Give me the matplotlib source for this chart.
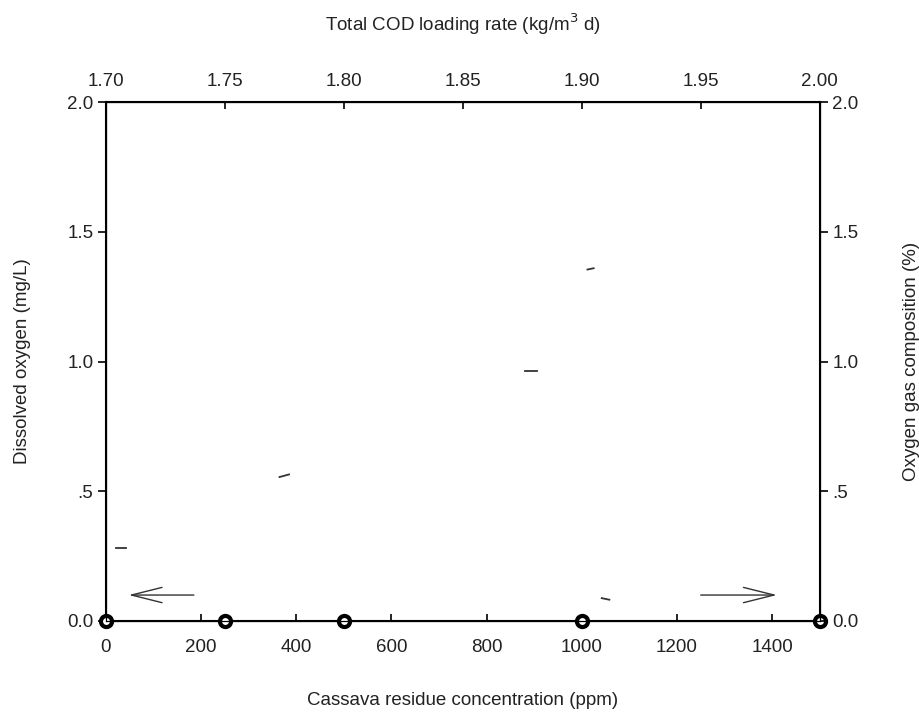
import matplotlib
matplotlib.use("Agg")
import matplotlib.pyplot as plt

plt.rcParams['font.family'] = ['Liberation Sans', 'DejaVu Sans']

# oxygen measurements (all zero)
conc = [0, 250, 500, 1000, 1500]
oxygen = [0.0, 0.0, 0.0, 0.0, 0.0]

# faint short strokes left in the scanned figure (x start, x end, y)
stroke_x0 = [22, 365, 880, 1012, 1042]
stroke_x1 = [42, 385, 905, 1025, 1058]
stroke_y0 = [0.28, 0.555, 0.965, 1.355, 0.088]
stroke_y1 = [0.28, 0.565, 0.965, 1.36, 0.082]

# direction arrows (tail x, head x, y)
arrow_tail = [185, 1250]
arrow_head = [48, 1410]
arrow_y = [0.10, 0.10]

y_ticks = [0.0, 0.5, 1.0, 1.5, 2.0]
y_labels = ['0.0', '.5', '1.0', '1.5', '2.0']
x_ticks = [0, 200, 400, 600, 800, 1000, 1200, 1400]
top_ticks = [1.70, 1.75, 1.80, 1.85, 1.90, 1.95, 2.00]

txt = '#222222'
fs = 13.5

fig = plt.figure(figsize=(9.2, 7.15), dpi=100)
ax = fig.add_axes([0.115, 0.1315, 0.776, 0.7255])

for a, b, c, d in zip(stroke_x0, stroke_x1, stroke_y0, stroke_y1):
    ax.plot([a, b], [c, d], color='#333333', lw=1.3)

for t, h, y in zip(arrow_tail, arrow_head, arrow_y):
    ax.annotate('', xy=(h, y), xytext=(t, y),
                arrowprops=dict(arrowstyle='->,head_length=2.2,head_width=0.55',
                                color='#333333', lw=1.0, shrinkA=0, shrinkB=0))

ax.plot(conc, oxygen, linestyle='none', marker='o', ms=8, mfc='white',
        mec='black', mew=3.0, clip_on=False, zorder=5)

ax.set_xlim(0, 1500)
ax.set_ylim(0, 2.0)
ax.set_xticks(x_ticks)
ax.set_yticks(y_ticks)
ax.set_yticklabels(y_labels)
ax.tick_params(axis='x', direction='in', length=5, width=1.2, labelsize=fs,
               colors='black', labelcolor=txt, pad=13)
ax.tick_params(axis='y', direction='out', length=6, width=1.2, labelsize=fs,
               colors='black', labelcolor=txt, pad=3)
for s in ax.spines.values():
    s.set_linewidth(1.5)
ax.set_xlabel('Cassava residue concentration (ppm)', fontsize=fs, color=txt, labelpad=26)
ax.set_ylabel('Dissolved oxygen (mg/L)', fontsize=fs, color=txt, labelpad=26)

top = ax.twiny()
top.set_xlim(1.70, 2.00)
top.set_xticks(top_ticks)
top.set_xticklabels(['%.2f' % v for v in top_ticks])
top.tick_params(axis='x', direction='in', length=5, width=1.2, labelsize=fs,
                colors='black', labelcolor=txt, pad=9)
top.set_xlabel('Total COD loading rate (kg/m$^{3}$ d)', fontsize=fs, color=txt, labelpad=30)

right = ax.twinx()
right.set_ylim(0, 2.0)
right.set_yticks(y_ticks)
right.set_yticklabels(y_labels)
right.tick_params(axis='y', direction='out', length=6, width=1.2, labelsize=fs,
                  colors='black', labelcolor=txt, pad=3)
right.set_ylabel('Oxygen gas composition (%)', fontsize=fs, color=txt, labelpad=32)

fig.savefig('out.png', dpi=100)
